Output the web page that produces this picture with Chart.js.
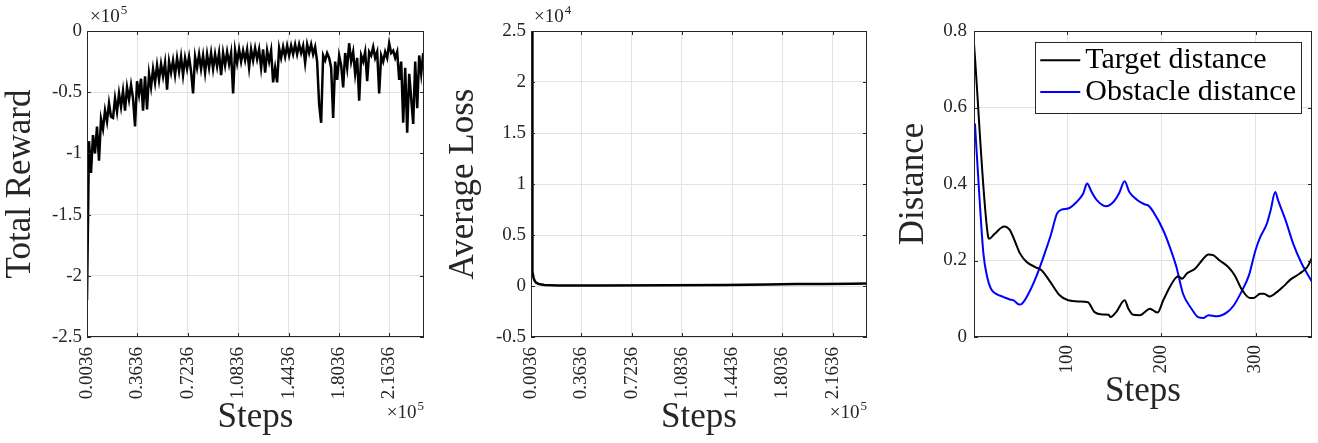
<!DOCTYPE html>
<html>
<head>
<title>Training curves</title>
<script src="https://cdn.jsdelivr.net/npm/chart.js"></script>
<style>
  body { margin: 0; background: #fff; }
  canvas.panel { position: absolute; top: 0; }
</style>
</head>
<body>
<canvas id="rewardChart" class="panel" style="left:0px" width="440" height="443"></canvas>
<canvas id="lossChart" class="panel" style="left:440px" width="440" height="443"></canvas>
<canvas id="distChart" class="panel" style="left:880px" width="438" height="443"></canvas>

<script>
// steps are in units of 1e5, rewards in 1e5, loss in 1e4 (matches the axis multipliers)
var stepTicks = [0.0036, 0.3636, 0.7236, 1.0836, 1.4436, 1.8036, 2.1636];
var stepMax = 2.41;

// reward sampled every rewardStep steps, starting at rewardStart
var rewardStart = 0.0036;
var rewardStep = 0.01429;
var rewardValues = [
  -2.2, -0.9, -1.16, -0.85, -1.0, -0.78, -1.06, -0.72, -0.8, -0.65,
  -0.74, -0.59, -0.7, -0.71, -0.55, -0.66, -0.51, -0.62, -0.49, -0.65,
  -0.46, -0.56, -0.44, -0.55, -0.78, -0.41, -0.52, -0.39, -0.65, -0.37,
  -0.64, -0.35, -0.46, -0.31, -0.42, -0.28, -0.4, -0.27, -0.37, -0.26,
  -0.48, -0.25, -0.34, -0.24, -0.36, -0.22, -0.33, -0.21, -0.36, -0.22,
  -0.31, -0.21, -0.33, -0.51, -0.21, -0.3, -0.19, -0.31, -0.2, -0.34,
  -0.19, -0.3, -0.18, -0.31, -0.19, -0.29, -0.18, -0.36, -0.18, -0.28,
  -0.17, -0.27, -0.18, -0.51, -0.16, -0.26, -0.15, -0.25, -0.16, -0.24,
  -0.15, -0.3, -0.15, -0.24, -0.14, -0.23, -0.15, -0.3, -0.15, -0.34,
  -0.16, -0.25, -0.16, -0.42, -0.3, -0.42, -0.14, -0.22, -0.13, -0.21,
  -0.12, -0.2, -0.12, -0.19, -0.11, -0.19, -0.11, -0.18, -0.12, -0.26,
  -0.11, -0.18, -0.11, -0.19, -0.13, -0.25, -0.6, -0.75, -0.2, -0.24,
  -0.18, -0.22, -0.3, -0.71, -0.25, -0.4, -0.2, -0.28, -0.46, -0.18,
  -0.3, -0.1, -0.25, -0.17, -0.35, -0.22, -0.57, -0.2, -0.25, -0.17,
  -0.41, -0.17, -0.2, -0.13, -0.22, -0.17, -0.51, -0.2, -0.25, -0.17,
  -0.22, -0.1, -0.18, -0.16, -0.22, -0.17, -0.4, -0.25, -0.75, -0.3,
  -0.83, -0.35, -0.55, -0.76, -0.25, -0.63, -0.2, -0.35, -0.18
];

var lossSteps  = [0.011, 0.0115, 0.0125, 0.014, 0.017, 0.022, 0.03, 0.042, 0.06, 0.1, 0.2, 0.5, 1.0, 1.4, 1.7, 1.9, 2.1, 2.3, 2.41];
var lossValues = [2.5, 1.5, 0.6, 0.28, 0.14, 0.08, 0.05, 0.03, 0.02, 0.01, 0.005, 0.006, 0.008, 0.01, 0.015, 0.02, 0.02, 0.022, 0.025];

var targetSteps  = [1, 16, 17, 23, 33, 39, 44, 50, 57, 66, 73, 82, 92, 101, 113, 122, 129, 138, 144, 146, 152, 161, 165, 170, 177, 188, 191, 196, 202, 209, 215, 218, 222, 227, 236, 243, 250, 255, 262, 271, 278, 285, 294, 298, 305, 309, 315, 323, 330, 337, 347, 355, 360];
var targetValues = [0.767, 0.262, 0.257, 0.27, 0.289, 0.28, 0.253, 0.218, 0.196, 0.183, 0.174, 0.144, 0.109, 0.096, 0.093, 0.091, 0.065, 0.059, 0.058, 0.052, 0.065, 0.096, 0.074, 0.058, 0.057, 0.074, 0.07, 0.064, 0.096, 0.131, 0.154, 0.159, 0.152, 0.166, 0.179, 0.2, 0.216, 0.214, 0.2, 0.183, 0.161, 0.126, 0.102, 0.102, 0.113, 0.113, 0.106, 0.118, 0.133, 0.15, 0.166, 0.183, 0.207];

var obstacleSteps  = [2, 7, 11, 15, 19, 25, 32, 39, 43, 49, 52, 58, 67, 76, 83, 89, 94, 101, 110, 117, 121, 126, 131, 141, 149, 155, 161, 166, 174, 182, 186, 191, 202, 209, 216, 223, 232, 239, 245, 250, 259, 270, 277, 285, 293, 300, 305, 312, 316, 321, 324, 332, 340, 349, 360];
var obstacleValues = [0.558, 0.357, 0.218, 0.157, 0.126, 0.112, 0.105, 0.098, 0.096, 0.085, 0.087, 0.109, 0.157, 0.218, 0.27, 0.322, 0.333, 0.336, 0.353, 0.375, 0.401, 0.379, 0.359, 0.342, 0.353, 0.375, 0.407, 0.379, 0.359, 0.347, 0.344, 0.329, 0.279, 0.235, 0.183, 0.113, 0.074, 0.052, 0.05, 0.057, 0.054, 0.065, 0.083, 0.118, 0.161, 0.227, 0.261, 0.296, 0.331, 0.379, 0.357, 0.305, 0.244, 0.192, 0.144];
var distTicks = [100, 200, 300];

var FONT = '"Liberation Serif", "Times New Roman", serif';
var AXIS = '#262626';

function pairs(xs, ys) {
  return ys.map(function(v, i) { return { x: xs[i], y: v }; });
}
function rewardPoints() {
  return rewardValues.map(function(v, i) { return { x: rewardStart + i * rewardStep, y: v }; });
}

// axes box with inward tick marks on all four sides, like matlab
var boxPlugin = {
  id: 'axesBox',
  afterDatasetsDraw: function(chart) {
    var ctx = chart.ctx, a = chart.chartArea;
    var xs = chart.scales.x, ys = chart.scales.y;
    ctx.save();
    ctx.strokeStyle = AXIS;
    ctx.lineWidth = 1;
    ctx.beginPath();
    xs.ticks.forEach(function(t) {
      var px = Math.round(xs.getPixelForValue(t.value)) + 0.5;
      ctx.moveTo(px, a.bottom); ctx.lineTo(px, a.bottom - 4);
      ctx.moveTo(px, a.top); ctx.lineTo(px, a.top + 4);
    });
    ys.ticks.forEach(function(t) {
      var py = Math.round(ys.getPixelForValue(t.value)) + 0.5;
      ctx.moveTo(a.left, py); ctx.lineTo(a.left + 4, py);
      ctx.moveTo(a.right, py); ctx.lineTo(a.right - 4, py);
    });
    ctx.stroke();
    ctx.strokeRect(a.left + 0.5, a.top + 0.5, a.right - a.left - 1, a.bottom - a.top - 1);
    ctx.restore();
  }
};

// the x10^n multipliers
var expPlugin = {
  id: 'expLabels',
  afterDraw: function(chart, args, opts) {
    var ctx = chart.ctx, a = chart.chartArea;
    ctx.save();
    ctx.fillStyle = AXIS;
    ctx.textBaseline = 'alphabetic';
    ctx.textAlign = 'left';
    function widthOf(e) {
      ctx.font = '19px ' + FONT;
      var w = ctx.measureText('\u00d710').width;
      ctx.font = '13px ' + FONT;
      return w + 1 + ctx.measureText(e).width;
    }
    function draw(x, y, e) {
      ctx.font = '19px ' + FONT;
      ctx.fillText('\u00d710', x, y);
      var w = ctx.measureText('\u00d710').width;
      ctx.font = '13px ' + FONT;
      ctx.fillText(e, x + w + 1, y - 8);
    }
    if (opts.top) draw(a.left + 3, a.top - 9, opts.top);
    if (opts.bottom) draw(a.right - widthOf(opts.bottom), 418, opts.bottom);
    ctx.restore();
  }
};

// legend with a box, inside the top right corner
var boxLegend = {
  id: 'boxLegend',
  afterDraw: function(chart, args, opts) {
    if (!opts.show) return;
    var ctx = chart.ctx, a = chart.chartArea, sets = chart.data.datasets;
    ctx.save();
    ctx.font = '30px ' + FONT;
    var textW = 0;
    sets.forEach(function(d) { textW = Math.max(textW, ctx.measureText(d.label).width); });
    var width = 5 + 40 + 5 + textW + 5, height = 70.6, rowH = 31.7;
    var right = a.right - 11, top = a.top + 11, left = right - width;
    ctx.fillStyle = '#fff';
    ctx.fillRect(left, top, width, height);
    ctx.strokeStyle = AXIS;
    ctx.lineWidth = 1;
    ctx.strokeRect(Math.round(left) + 0.5, Math.round(top) + 0.5, Math.round(width), Math.round(height));
    sets.forEach(function(d, i) {
      var y = top + 18.3 + i * rowH;
      ctx.strokeStyle = d.borderColor;
      ctx.lineWidth = 2;
      ctx.beginPath();
      ctx.moveTo(left + 5, y); ctx.lineTo(left + 45, y);
      ctx.stroke();
      ctx.fillStyle = '#000';
      ctx.textBaseline = 'middle';
      ctx.fillText(d.label, left + 50, y);
    });
    ctx.restore();
  }
};

function makeChart(id, datasets, c) {
  return new Chart(document.getElementById(id), {
    type: 'line',
    data: { datasets: datasets },
    plugins: [boxPlugin, expPlugin, boxLegend],
    options: {
      responsive: false,
      animation: false,
      devicePixelRatio: 1,
      layout: { padding: { left: 0, top: 31, right: c.rightPad, bottom: 0 } },
      elements: { point: { radius: 0 }, line: { borderWidth: 2 } },
      plugins: {
        legend: { display: false },
        tooltip: { enabled: false },
        expLabels: { top: c.expTop, bottom: c.expBottom },
        boxLegend: { show: !!c.legend }
      },
      scales: {
        x: {
          type: 'linear',
          min: c.xMin, max: c.xMax,
          afterBuildTicks: function(s) { s.ticks = c.xTicks.map(function(v) { return { value: v }; }); },
          afterFit: function(s) { s.height = 106; },
          grid: { color: '#e3e3e3', drawTicks: false },
          border: { display: false },
          ticks: {
            autoSkip: false, minRotation: 90, maxRotation: 90, padding: c.xPad,
            color: AXIS, font: { family: FONT, size: 19 },
            callback: c.xFormat
          },
          title: {
            display: true, text: 'Steps', color: AXIS,
            font: { family: FONT, size: 35 },
            padding: { top: 0, bottom: c.xTitlePad }
          }
        },
        y: {
          min: c.yMin, max: c.yMax,
          afterFit: function(s) { s.width = c.left; },
          grid: { color: '#e3e3e3', drawTicks: false },
          border: { display: false },
          ticks: {
            stepSize: c.yStep, padding: c.yPad,
            color: AXIS, font: { family: FONT, size: 19 },
            callback: function(v) { return String(+v.toFixed(2)); }
          },
          title: {
            display: true, text: c.yTitle, color: AXIS,
            font: { family: FONT, size: 35 },
            padding: { top: c.yTitlePad, bottom: 0 }
          }
        }
      }
    }
  });
}

function stepLabel(v) { return v.toFixed(4); }

makeChart('rewardChart', [
  { label: 'Total Reward', data: rewardPoints(), borderColor: '#000', borderWidth: 2.5 }
], {
  left: 87, rightPad: 16, xMin: rewardStart, xMax: stepMax, xTicks: stepTicks, xFormat: stepLabel,
  xPad: 10, xTitlePad: 4, yMin: -2.5, yMax: 0, yStep: 0.5, yPad: 5, yTitle: 'Total Reward', yTitlePad: 0,
  expTop: '5', expBottom: '5'
});

makeChart('lossChart', [
  { label: 'Average Loss', data: pairs(lossSteps, lossValues), borderColor: '#000', borderWidth: 2.5 }
], {
  left: 91, rightPad: 13, xMin: rewardStart, xMax: stepMax, xTicks: stepTicks, xFormat: stepLabel,
  xPad: 10, xTitlePad: 4, yMin: -0.5, yMax: 2.5, yStep: 0.5, yPad: 5, yTitle: 'Average Loss', yTitlePad: 3,
  expTop: '4', expBottom: '5'
});

makeChart('distChart', [
  { label: 'Target distance', data: pairs(targetSteps, targetValues), borderColor: '#000', cubicInterpolationMode: 'monotone' },
  { label: 'Obstacle distance', data: pairs(obstacleSteps, obstacleValues), borderColor: '#0000ff', cubicInterpolationMode: 'monotone' }
], {
  left: 94, rightPad: 6, xMin: 1, xMax: 360, xTicks: distTicks, xFormat: function(v) { return String(v); },
  xPad: 8, xTitlePad: 30, yMin: 0, yMax: 0.8, yStep: 0.2, yPad: 7, yTitle: 'Distance', yTitlePad: 13,
  legend: true
});
</script>
</body>
</html>
